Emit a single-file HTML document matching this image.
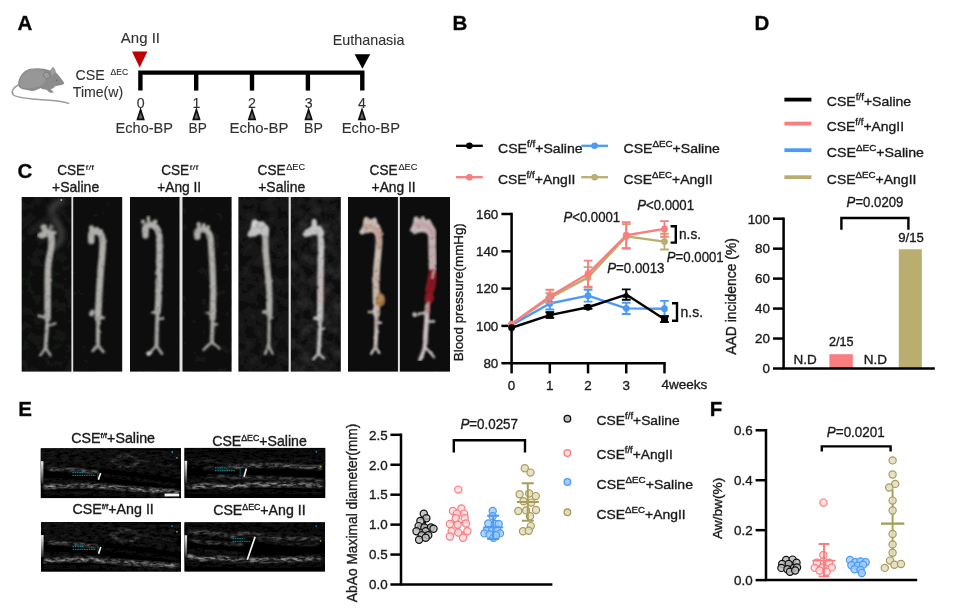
<!DOCTYPE html>
<html><head><meta charset="utf-8"><title>Figure</title>
<style>
html,body{margin:0;padding:0;background:#fff;}
body{width:955px;height:613px;overflow:hidden;font-family:"Liberation Sans",sans-serif;}
svg{display:block;font-family:"Liberation Sans",sans-serif;}
svg text{stroke:#1c1c1c;stroke-width:0.35px;}
</style></head><body>
<svg width="955" height="613" viewBox="0 0 955 613">
<defs>
<filter id="b03" x="-5%" y="-5%" width="110%" height="110%"><feGaussianBlur stdDeviation="0.5"/></filter>
<filter id="b06" x="-10%" y="-10%" width="120%" height="120%"><feGaussianBlur stdDeviation="0.6"/></filter>
<filter id="b09" x="-20%" y="-5%" width="140%" height="110%"><feGaussianBlur stdDeviation="0.85"/></filter>
<filter id="b1" x="-20%" y="-20%" width="140%" height="140%"><feGaussianBlur stdDeviation="1"/></filter>
<filter id="b2" x="-30%" y="-30%" width="160%" height="160%"><feGaussianBlur stdDeviation="2"/></filter>
<filter id="b4" x="-50%" y="-50%" width="200%" height="200%"><feGaussianBlur stdDeviation="4"/></filter>
<linearGradient id="gsb" x1="0" y1="0" x2="0" y2="1"><stop offset="0" stop-color="#f0f0f0"/><stop offset="1" stop-color="#2a2a2a"/></linearGradient>
<filter id="speck0" x="0" y="0" width="100%" height="100%" color-interpolation-filters="sRGB"><feTurbulence type="fractalNoise" baseFrequency="0.16 0.4" numOctaves="3" seed="4" result="n"/><feColorMatrix in="n" type="matrix" values="2.6 0 0 0 -0.85  2.6 0 0 0 -0.85  2.6 0 0 0 -0.85  0 0 0 0 1" result="n2"/><feComposite in="SourceGraphic" in2="n2" operator="arithmetic" k1="0.95" k2="0.2" k3="0" k4="0" result="c"/><feGaussianBlur in="c" stdDeviation="0.7"/></filter>
<filter id="speck1" x="0" y="0" width="100%" height="100%" color-interpolation-filters="sRGB"><feTurbulence type="fractalNoise" baseFrequency="0.16 0.4" numOctaves="3" seed="11" result="n"/><feColorMatrix in="n" type="matrix" values="2.6 0 0 0 -0.85  2.6 0 0 0 -0.85  2.6 0 0 0 -0.85  0 0 0 0 1" result="n2"/><feComposite in="SourceGraphic" in2="n2" operator="arithmetic" k1="0.95" k2="0.2" k3="0" k4="0" result="c"/><feGaussianBlur in="c" stdDeviation="0.7"/></filter>
<filter id="aort" x="0" y="0" width="100%" height="100%" color-interpolation-filters="sRGB"><feTurbulence type="fractalNoise" baseFrequency="0.2 0.2" numOctaves="2" seed="7" result="n"/><feDisplacementMap in="SourceGraphic" in2="n" scale="2.2" xChannelSelector="R" yChannelSelector="G" result="d"/><feGaussianBlur in="d" stdDeviation="0.8" result="bl"/><feColorMatrix in="n" type="matrix" values="0 0 0 0 0  0 0 0 0 0  0 0 0 0 0  0 0 0.4 0 0.8" result="na0"/><feGaussianBlur in="na0" stdDeviation="0.6" result="na"/><feComposite in="bl" in2="na" operator="in"/></filter>
<filter id="pnoise" x="0" y="0" width="100%" height="100%" color-interpolation-filters="sRGB"><feTurbulence type="fractalNoise" baseFrequency="0.09 0.09" numOctaves="4" seed="21" result="n"/><feColorMatrix in="n" type="matrix" values="0 0 0 0 1  0 0 0 0 1  0 0 0 0 1  2.0 0 0 0 -0.62" result="m"/><feComposite in="m" in2="SourceGraphic" operator="in"/></filter>
</defs>
<rect width="955" height="613" fill="#ffffff"/>
<g filter="url(#b03)">
<text x="17.5" y="30.3" font-size="20.5" text-anchor="start" font-weight="bold" font-style="normal" fill="#000" >A</text>
<text x="452.5" y="29.8" font-size="20.5" text-anchor="start" font-weight="bold" font-style="normal" fill="#000" >B</text>
<text x="754.5" y="30.3" font-size="20.5" text-anchor="start" font-weight="bold" font-style="normal" fill="#000" >D</text>
<text x="17.5" y="177.6" font-size="20.5" text-anchor="start" font-weight="bold" font-style="normal" fill="#000" >C</text>
<text x="18.3" y="416.0" font-size="20.5" text-anchor="start" font-weight="bold" font-style="normal" fill="#000" >E</text>
<text x="709.8" y="416.0" font-size="20.5" text-anchor="start" font-weight="bold" font-style="normal" fill="#000" >F</text>
<g id="mouse" filter="url(#b06)">
<path d="M18 85 C13 88 10.5 92 13.5 95 C17 98 30 99 45 100 C55 100.6 63 101.5 68.6 103.4" fill="none" stroke="#9c9c9c" stroke-width="1.5" stroke-linecap="round"/>
<path d="M18.2 85.5 C17.5 78 23 70.5 30 68.8 C36 67.6 44 68 50 70.5 L52.5 67.2 C54.5 67.2 55.5 70 55.8 72.3 C59 75.5 62 79.5 64.3 83 C64 84.5 62 84.8 60 85.2 L55 86.2 C54 88 52.5 89 50.5 89 L54 92.5 L50 92.8 L46 89.5 C44 89.5 42 89 40.5 88 C38 89.5 35 91 32 91 L27 90 C23 89.6 19.5 88.5 18.2 85.5 Z" fill="#8b8b8b"/>
<path d="M19.5 84 C19.5 78 24 71.5 30.5 70 C36 69 42 69.5 45.5 72 C47.5 76 46.5 81 43 84.5 C38 88 30 88.5 24 88 C21.5 87.6 20 86.2 19.5 84 Z" fill="#979797"/>
<ellipse cx="46.6" cy="75.4" rx="3" ry="3.5" transform="rotate(-35 46.6 75.4)" fill="#9d9d9d" stroke="#7b7b7b" stroke-width="0.9"/>
<path d="M50.5 71 L52.6 67.6 C54.3 68 55 70 55.3 72.5 L52 76 Z" fill="#9f9f9f"/>
<circle cx="56.6" cy="80.4" r="0.8" fill="#666"/>
</g>
<text x="120.8" y="43.0" font-size="15" textLength="39.2" lengthAdjust="spacingAndGlyphs" font-weight="normal" font-style="normal" fill="#333333" style="stroke-width:0.1px">Ang II</text>
<text x="332.8" y="44.6" font-size="15" textLength="71.6" lengthAdjust="spacingAndGlyphs" font-weight="normal" font-style="normal" fill="#333333" style="stroke-width:0.1px">Euthanasia</text>
<path d="M132 51.6 L147.4 51.6 L139.7 67.4 Z" fill="#c00000"/>
<path d="M354.6 54.2 L370.2 54.2 L362.4 68.8 Z" fill="#000"/>
<path d="M140.4 90.6 V72.6 H362.3 V90.6" fill="none" stroke="#000" stroke-width="4.4" stroke-linejoin="miter"/>
<line x1="196.2" y1="72.6" x2="196.2" y2="90.6" stroke="#000" stroke-width="4.4"/>
<line x1="252" y1="72.6" x2="252" y2="90.6" stroke="#000" stroke-width="4.4"/>
<line x1="307.9" y1="72.6" x2="307.9" y2="90.6" stroke="#000" stroke-width="4.4"/>
<text x="75.6" y="79.8" font-size="15" textLength="29.2" lengthAdjust="spacingAndGlyphs" font-weight="normal" font-style="normal" fill="#333333" style="stroke-width:0.1px">CSE</text>
<text x="110.6" y="75.3" font-size="8.6" textLength="17.6" lengthAdjust="spacingAndGlyphs" font-weight="normal" font-style="normal" fill="#333333" style="stroke-width:0.1px">&#916;EC</text>
<text x="72.8" y="97.0" font-size="15" textLength="50.4" lengthAdjust="spacingAndGlyphs" font-weight="normal" font-style="normal" fill="#333333" style="stroke-width:0.1px">Time(w)</text>
<text x="140.6" y="107.6" font-size="14.2" text-anchor="middle" font-weight="normal" font-style="normal" fill="#333333" style="stroke-width:0.1px">0</text>
<path d="M137.5 119.4 L143.7 119.4 L140.6 109.8 Z" fill="#666" stroke="#111" stroke-width="1.7" stroke-linejoin="miter"/>
<text x="115.6" y="133.3" font-size="15" textLength="57.4" lengthAdjust="spacingAndGlyphs" font-weight="normal" font-style="normal" fill="#333333" style="stroke-width:0.1px">Echo-BP</text>
<text x="196.4" y="107.6" font-size="14.2" text-anchor="middle" font-weight="normal" font-style="normal" fill="#333333" style="stroke-width:0.1px">1</text>
<path d="M193.3 119.4 L199.5 119.4 L196.4 109.8 Z" fill="#666" stroke="#111" stroke-width="1.7" stroke-linejoin="miter"/>
<text x="188.6" y="133.3" font-size="15" textLength="18.2" lengthAdjust="spacingAndGlyphs" font-weight="normal" font-style="normal" fill="#333333" style="stroke-width:0.1px">BP</text>
<text x="252" y="107.6" font-size="14.2" text-anchor="middle" font-weight="normal" font-style="normal" fill="#333333" style="stroke-width:0.1px">2</text>
<path d="M248.9 119.4 L255.1 119.4 L252 109.8 Z" fill="#666" stroke="#111" stroke-width="1.7" stroke-linejoin="miter"/>
<text x="229.6" y="133.3" font-size="15" textLength="58.9" lengthAdjust="spacingAndGlyphs" font-weight="normal" font-style="normal" fill="#333333" style="stroke-width:0.1px">Echo-BP</text>
<text x="308.6" y="107.6" font-size="14.2" text-anchor="middle" font-weight="normal" font-style="normal" fill="#333333" style="stroke-width:0.1px">3</text>
<path d="M305.5 119.4 L311.70000000000005 119.4 L308.6 109.8 Z" fill="#666" stroke="#111" stroke-width="1.7" stroke-linejoin="miter"/>
<text x="304.0" y="133.3" font-size="15" textLength="18.8" lengthAdjust="spacingAndGlyphs" font-weight="normal" font-style="normal" fill="#333333" style="stroke-width:0.1px">BP</text>
<text x="362" y="107.6" font-size="14.2" text-anchor="middle" font-weight="normal" font-style="normal" fill="#333333" style="stroke-width:0.1px">4</text>
<path d="M358.9 119.4 L365.1 119.4 L362 109.8 Z" fill="#666" stroke="#111" stroke-width="1.7" stroke-linejoin="miter"/>
<text x="341.7" y="133.3" font-size="15" textLength="58.3" lengthAdjust="spacingAndGlyphs" font-weight="normal" font-style="normal" fill="#333333" style="stroke-width:0.1px">Echo-BP</text>
<text x="57.2" y="175.2" font-size="14.6" textLength="28.0" lengthAdjust="spacingAndGlyphs" fill="#1a1a1a" style="stroke-width:0.35px">CSE</text>
<text x="85.6" y="169.6" font-size="7.2" textLength="8.6" lengthAdjust="spacingAndGlyphs" fill="#1a1a1a" style="stroke-width:0.1px">f/f</text>
<text x="52.0" y="192.2" font-size="14.6" textLength="47.2" lengthAdjust="spacingAndGlyphs" fill="#1a1a1a" style="stroke-width:0.35px">+Saline</text>
<text x="161.2" y="175.2" font-size="14.6" textLength="28.0" lengthAdjust="spacingAndGlyphs" fill="#1a1a1a" style="stroke-width:0.35px">CSE</text>
<text x="189.6" y="169.6" font-size="7.2" textLength="8.8" lengthAdjust="spacingAndGlyphs" fill="#1a1a1a" style="stroke-width:0.1px">f/f</text>
<text x="157.2" y="192.2" font-size="14.6" textLength="44.0" lengthAdjust="spacingAndGlyphs" fill="#1a1a1a" style="stroke-width:0.35px">+Ang II</text>
<text x="257.6" y="175.2" font-size="14.6" textLength="28.0" lengthAdjust="spacingAndGlyphs" fill="#1a1a1a" style="stroke-width:0.35px">CSE</text>
<text x="286.2" y="169.8" font-size="8.8" textLength="18.8" lengthAdjust="spacingAndGlyphs" fill="#1a1a1a" style="stroke-width:0.1px">&#916;EC</text>
<text x="258.2" y="192.2" font-size="14.6" textLength="47.0" lengthAdjust="spacingAndGlyphs" fill="#1a1a1a" style="stroke-width:0.35px">+Saline</text>
<text x="369.6" y="175.2" font-size="14.6" textLength="28.0" lengthAdjust="spacingAndGlyphs" fill="#1a1a1a" style="stroke-width:0.35px">CSE</text>
<text x="398.4" y="169.8" font-size="8.8" textLength="19.0" lengthAdjust="spacingAndGlyphs" fill="#1a1a1a" style="stroke-width:0.1px">&#916;EC</text>
<text x="371.6" y="192.2" font-size="14.6" textLength="44.0" lengthAdjust="spacingAndGlyphs" fill="#1a1a1a" style="stroke-width:0.35px">+Ang II</text>
<rect x="70.9" y="197" width="2.799999999999997" height="174.60000000000002" fill="#e2e2e2"/>
<rect x="179.0" y="197" width="4.0" height="174.60000000000002" fill="#e2e2e2"/>
<rect x="288.1" y="197" width="3.1999999999999886" height="174.60000000000002" fill="#e2e2e2"/>
<rect x="397.4" y="197" width="3.0" height="174.60000000000002" fill="#e2e2e2"/>
<rect x="21.7" y="197" width="49.7" height="174.6" fill="#0b0c0b"/>
<rect x="73.2" y="197" width="49.0" height="174.6" fill="#0a0a0a"/>
<rect x="130" y="197" width="49.5" height="174.6" fill="#090909"/>
<rect x="182.5" y="197" width="49.1" height="174.6" fill="#0a0a0a"/>
<rect x="238.4" y="197" width="50.2" height="174.6" fill="#0d0d0d"/>
<rect x="290.8" y="197" width="50.0" height="174.6" fill="#0f0f0f"/>
<rect x="348" y="197" width="49.9" height="174.6" fill="#070707"/>
<rect x="399.9" y="197" width="50.1" height="174.6" fill="#080808"/>
<rect x="21.7" y="197" width="49.7" height="174.6" fill="#fff" opacity="0.05" filter="url(#pnoise)"/>
<rect x="73.2" y="197" width="49.0" height="174.6" fill="#fff" opacity="0.03" filter="url(#pnoise)"/>
<rect x="130" y="197" width="49.5" height="174.6" fill="#fff" opacity="0.03" filter="url(#pnoise)"/>
<rect x="182.5" y="197" width="49.1" height="174.6" fill="#fff" opacity="0.04" filter="url(#pnoise)"/>
<rect x="238.4" y="197" width="50.2" height="174.6" fill="#fff" opacity="0.07" filter="url(#pnoise)"/>
<rect x="290.8" y="197" width="50.0" height="174.6" fill="#fff" opacity="0.11" filter="url(#pnoise)"/>
<rect x="348" y="197" width="49.9" height="174.6" fill="#fff" opacity="0.02" filter="url(#pnoise)"/>
<rect x="399.9" y="197" width="50.1" height="174.6" fill="#fff" opacity="0.03" filter="url(#pnoise)"/>
<clipPath id="cp0"><rect x="21.7" y="197" width="49.7" height="174.6"/></clipPath>
<clipPath id="cp1"><rect x="73.2" y="197" width="49.0" height="174.6"/></clipPath>
<clipPath id="cp2"><rect x="130" y="197" width="49.5" height="174.6"/></clipPath>
<clipPath id="cp3"><rect x="182.5" y="197" width="49.1" height="174.6"/></clipPath>
<clipPath id="cp4"><rect x="238.4" y="197" width="50.2" height="174.6"/></clipPath>
<clipPath id="cp5"><rect x="290.8" y="197" width="50.0" height="174.6"/></clipPath>
<clipPath id="cp6"><rect x="348" y="197" width="49.9" height="174.6"/></clipPath>
<clipPath id="cp7"><rect x="399.9" y="197" width="50.1" height="174.6"/></clipPath>
<clipPath id="cpall"><rect x="21.7" y="197" width="428.3" height="174.6"/></clipPath>
<g clip-path="url(#cpall)">
<g filter="url(#b2)" opacity="0.72"><path d="M62 201 C55 203 50 208 52 214 C54 220 60 224 61 232 C62 240 58 246 52 248" fill="none" stroke="#4a4a4a" stroke-width="7" stroke-linecap="round" stroke-linejoin="round"/><path d="M30 232 C36 226 44 222 52 216" fill="none" stroke="#2c2c2c" stroke-width="5" stroke-linecap="round" stroke-linejoin="round"/></g>
<circle cx="61.3" cy="200" r="0.9" fill="#bbb" filter="url(#b06)"/>
<g filter="url(#aort)">
<path d="M51.6 238 C52.2 244 51 250 49.6 256 C48.4 262 47.9 266 47.8 272 L47.6 300 L47.5 318" fill="none" stroke="#b0aeab" stroke-width="6.5" stroke-linecap="round" stroke-linejoin="round"/>
<path d="M47.5 318 C46.8 330 46 340 45.6 348.5" fill="none" stroke="#a9a7a4" stroke-width="3.9" stroke-linecap="round" stroke-linejoin="round"/>
<path d="M45.6 348 L40 355.8 M45.6 348 L50.9 355.8" fill="none" stroke="#a9a7a4" stroke-width="2.5" stroke-linecap="round" stroke-linejoin="round"/>
<path d="M46.5 317.6 L38.4 315.8" fill="none" stroke="#a9a7a4" stroke-width="2.8" stroke-linecap="round" stroke-linejoin="round"/><path d="M47.6 326 L55.6 323.4" fill="none" stroke="#a9a7a4" stroke-width="2.2" stroke-linecap="round" stroke-linejoin="round"/>
<path d="M51.3 240 C51.8 233 48 232 42 235" fill="none" stroke="#b0aeab" stroke-width="6.5" stroke-linecap="round" stroke-linejoin="round"/>
<ellipse cx="43.0" cy="235" rx="5.4" ry="3.3" fill="#b0aeab" transform="rotate(-12 43.0 235)"/><ellipse cx="44" cy="227.6" rx="3.5" ry="3.4" fill="#b0aeab"/><ellipse cx="54.0" cy="232.8" rx="2.6" ry="2.2" fill="#b0aeab"/><ellipse cx="47.5" cy="231.5" rx="2.5" ry="2.5" fill="#b0aeab"/>
<path d="M48.8 232 L50.8 225" fill="none" stroke="#b0b0b0" stroke-width="1.8" stroke-linecap="round" stroke-linejoin="round"/><path d="M51.2 232 L53 225.6" fill="none" stroke="#9a9a9a" stroke-width="1.4" stroke-linecap="round" stroke-linejoin="round"/>
<path d="M91.2 241 L91.2 236 C91.2 230.5 96 231 99 232.5 C102.4 234.5 102.9 240 102.7 246 C102.3 256 101.3 264 100.7 270 C99.7 284 98.9 296 98.3 312 L98 318" fill="none" stroke="#b0aeab" stroke-width="6.7" stroke-linecap="round" stroke-linejoin="round"/>
<path d="M98 318 C97.9 328 97.9 338 97.9 345.5" fill="none" stroke="#a9a7a4" stroke-width="4.1" stroke-linecap="round" stroke-linejoin="round"/>
<path d="M97.9 345 L92.6 351 M97.9 345 L103.4 351.8" fill="none" stroke="#a9a7a4" stroke-width="2.8" stroke-linecap="round" stroke-linejoin="round"/>
<ellipse cx="91.5" cy="228.2" rx="2.7" ry="2.9" fill="#b0aeab"/><ellipse cx="96.6" cy="229.6" rx="2.5" ry="2.6" fill="#b0aeab"/><ellipse cx="100.9" cy="231.2" rx="2.3" ry="2.3" fill="#b0aeab"/>
<ellipse cx="91.8" cy="313" rx="2.6" ry="3.6" fill="#a9a7a4" transform="rotate(20 91.8 313)"/><ellipse cx="102.6" cy="317.6" rx="2.4" ry="2.2" fill="#a9a7a4"/>
<path d="M145.4 235.5 L145.2 229 C146 222.5 158 222.5 159.3 236 L159.5 252 C159.4 266 158.8 280 158.7 292 C158.6 300 158 306 157.6 312" fill="none" stroke="#b0aeab" stroke-width="6.5" stroke-linecap="round" stroke-linejoin="round"/>
<path d="M157.6 312 C157.2 320 156.8 330 156.5 346" fill="none" stroke="#a9a7a4" stroke-width="4.1" stroke-linecap="round" stroke-linejoin="round"/>
<path d="M156.4 345.6 L149 353.6 M156.4 345.6 L162 353.8" fill="none" stroke="#a9a7a4" stroke-width="2.7" stroke-linecap="round" stroke-linejoin="round"/>
<ellipse cx="148.6" cy="353.6" rx="2.3" ry="2.3" fill="#dcdcdc"/>
<ellipse cx="142.9" cy="221.5" rx="2.0" ry="2.6" fill="#b0aeab"/><ellipse cx="148.3" cy="219.2" rx="1.7" ry="3.8" fill="#b0aeab"/><ellipse cx="155.2" cy="221.6" rx="2.4" ry="2.2" fill="#b0aeab"/><ellipse cx="145.4" cy="231.5" rx="3.6" ry="5" fill="#b0aeab"/>
<path d="M157 312.6 L151.6 312.4" fill="none" stroke="#a9a7a4" stroke-width="2.6" stroke-linecap="round" stroke-linejoin="round"/><path d="M157 318.8 L163 318.8" fill="none" stroke="#a9a7a4" stroke-width="2.6" stroke-linecap="round" stroke-linejoin="round"/>
<path d="M197.4 236.8 L197.6 232 C198.5 227.3 209.5 227 210.8 240 C211.4 250 212 258 212.4 266 C212.8 278 213.3 286 213.2 294 C213.1 304 212.8 310 212.6 318" fill="none" stroke="#b0aeab" stroke-width="6.3" stroke-linecap="round" stroke-linejoin="round"/>
<path d="M212.6 318 C212.5 326 212.3 334 211.8 342.4" fill="none" stroke="#a9a7a4" stroke-width="4.1" stroke-linecap="round" stroke-linejoin="round"/>
<path d="M211.8 342 L203.6 349.6 M211.8 342 L219.4 348.4" fill="none" stroke="#a9a7a4" stroke-width="2.6" stroke-linecap="round" stroke-linejoin="round"/>
<ellipse cx="198.6" cy="224.4" rx="2.2" ry="2.6" fill="#b0aeab"/><ellipse cx="203.8" cy="225.4" rx="2.0" ry="2.4" fill="#b0aeab"/><ellipse cx="208.4" cy="227" rx="1.8" ry="2.0" fill="#b0aeab"/><ellipse cx="197.2" cy="233.4" rx="3.4" ry="4.2" fill="#b0aeab"/>
<path d="M211.6 313.6 L206.6 313" fill="none" stroke="#a9a7a4" stroke-width="2.6" stroke-linecap="round" stroke-linejoin="round"/><path d="M213 324.2 L217 324.2" fill="none" stroke="#a9a7a4" stroke-width="2.4" stroke-linecap="round" stroke-linejoin="round"/>
<path d="M261 230 C265 230 265.6 236 265.5 244 C265.6 254 266.6 260 267 266 C268 276 269.2 284 269.3 292 C269.4 300 269.4 306 269.3 314" fill="none" stroke="#b0aeab" stroke-width="6.3" stroke-linecap="round" stroke-linejoin="round"/>
<path d="M269.3 314 C269.2 322 269 334 268.8 346" fill="none" stroke="#a9a7a4" stroke-width="3.3" stroke-linecap="round" stroke-linejoin="round"/>
<path d="M268.8 345.6 L264.8 353.8 M268.8 345.6 L272.6 353.8" fill="none" stroke="#a9a7a4" stroke-width="2.4" stroke-linecap="round" stroke-linejoin="round"/>
<path d="M247 235 L250.4 228.4 L251.8 221.6 C253.2 218.4 257 218.8 258.2 221.6 L262.6 221.2 C264.6 221 265.8 222.8 265.6 224.6 L268.2 226 L269.4 230 L268.6 236 L262 235 L259.4 234.2 L254 236.4 L249.4 237.2 Z" fill="#c2c2c2"/>
<ellipse cx="254.6" cy="223.4" rx="2.6" ry="3.0" fill="#d4d4d4"/>
<ellipse cx="264.2" cy="312" rx="2.4" ry="2.0" fill="#a9a7a4"/><path d="M269.4 317.6 L272.6 317.6" fill="none" stroke="#a9a7a4" stroke-width="2.4" stroke-linecap="round" stroke-linejoin="round"/>
<path d="M312 229.6 C319 229 321 233 321 242 L320.8 262 C320.6 276 320.4 284 320.4 294 C320.4 304 320.2 312 320 320" fill="none" stroke="#c4c2c2" stroke-width="6.3" stroke-linecap="round" stroke-linejoin="round"/>
<path d="M320 320 C319.8 330 319.4 342 318.4 354" fill="none" stroke="#bdbdbd" stroke-width="4.1" stroke-linecap="round" stroke-linejoin="round"/>
<path d="M318.3 353.6 L313.4 359 M318.3 353.6 L323.8 358.2" fill="none" stroke="#bdbdbd" stroke-width="2.7" stroke-linecap="round" stroke-linejoin="round"/>
<path d="M302.4 234.4 L305.4 229.4 L311.2 227.2 L311.8 220.6 C312.6 218.2 315.8 218.2 316.6 220.6 L317.4 226.2 L320.8 225.6 L322 228 L324.2 231.6 L324 236 L318 234.6 L313.6 235 L308.6 236.6 L304.6 237.6 Z" fill="#c4c4c4"/>
<ellipse cx="315.4" cy="318.2" rx="2.4" ry="2.0" fill="#bdbdbd"/><path d="M320 328.2 L324.2 328.2" fill="none" stroke="#bdbdbd" stroke-width="2.2" stroke-linecap="round" stroke-linejoin="round"/>
<path d="M320.5 270 L320.2 305" fill="none" stroke="#c9b3b0" stroke-width="2.2" stroke-linecap="round" stroke-linejoin="round"/>
<path d="M366 229 C376 227.6 379.4 232 379 242 C378.6 250 377.6 258 376.8 266 C376.2 276 375.8 284 376 292 C376.2 300 376.4 306 376.5 314" fill="none" stroke="#cbbfb6" stroke-width="6.9" stroke-linecap="round" stroke-linejoin="round"/>
<path d="M376.5 314 C376.5 322 376.3 334 375.6 347" fill="none" stroke="#c9c0bd" stroke-width="4.1" stroke-linecap="round" stroke-linejoin="round"/>
<path d="M375.6 346.6 L371.2 353.8 M375.6 346.6 L379.2 353" fill="none" stroke="#c9c0bd" stroke-width="2.6" stroke-linecap="round" stroke-linejoin="round"/>
<path d="M358.8 232.2 L362.4 226.4 L363.6 219 C365 215.6 368.6 215.8 369.6 219 L372 219.6 C373 216.8 376.6 217 377 220 L377.4 223 L380 225.4 L381 229 L383.8 234 L380 238 L372 232 L366 232.8 L362 235.2 Z" fill="#cbbfb6"/>
<ellipse cx="379.4" cy="232.4" rx="1.6" ry="3.6" fill="#d9a9a0" transform="rotate(-25 379.4 232.4)"/>
<ellipse cx="380.4" cy="300" rx="4.8" ry="7.0" fill="#a67848"/>
<ellipse cx="379.8" cy="298.4" rx="2.6" ry="3.8" fill="#b48a58"/>
<path d="M376 312.2 L368.6 312" fill="none" stroke="#c9c0bd" stroke-width="2.4" stroke-linecap="round" stroke-linejoin="round"/><path d="M376.6 322.8 L381 322.8" fill="none" stroke="#c9c0bd" stroke-width="2.6" stroke-linecap="round" stroke-linejoin="round"/>
<path d="M377.4 308 L377.2 326" fill="none" stroke="#c7a39a" stroke-width="1.6" stroke-linecap="round" stroke-linejoin="round"/>
<path d="M418 228.6 C430 226.6 432.6 232 432.2 242 L432.4 258 L432.8 268" fill="none" stroke="#c7babc" stroke-width="7.9" stroke-linecap="round" stroke-linejoin="round"/>
<path d="M427.4 306 C427 314 426.4 324 425.6 334 L425 348" fill="none" stroke="#cbc0c2" stroke-width="4.9" stroke-linecap="round" stroke-linejoin="round"/>
<path d="M425 347.6 L419.8 360.4" fill="none" stroke="#cbc0c2" stroke-width="3.9" stroke-linecap="round" stroke-linejoin="round"/><path d="M425.4 347 L434 357" fill="none" stroke="#c8c4c6" stroke-width="2.6" stroke-linecap="round" stroke-linejoin="round"/>
<path d="M409.6 230.6 L412.4 224.6 L413.6 218.6 C414.6 215.4 417.4 215.6 418.2 218.4 L420.4 218.8 C421.2 215.2 424.6 215.2 425 218.8 L426.8 220.4 C428.2 218.2 431 219 431 221.6 L433 225 L436.2 230.6 L436.2 236 L428 233.6 L420 231.6 L414.6 234.4 Z" fill="#c7babc"/>
<path d="M432.9 274 C432.4 279 430.8 285 429.8 290" fill="none" stroke="#861822" stroke-width="9.6" stroke-linecap="round" stroke-linejoin="round"/>
<ellipse cx="429.2" cy="297.8" rx="5.0" ry="5.6" fill="#8e1a24"/>
<path d="M433.6 271 L432.4 278" fill="none" stroke="#d7c3c3" stroke-width="2.0" stroke-linecap="round" stroke-linejoin="round"/>
<path d="M426.8 312.6 L416 314.4" fill="none" stroke="#cbc0c2" stroke-width="2.8" stroke-linecap="round" stroke-linejoin="round"/><ellipse cx="414.6" cy="314.6" rx="2.2" ry="2.6" fill="#cbc0c2"/><path d="M426.6 321.6 L434 321.4" fill="none" stroke="#cbc0c2" stroke-width="2.6" stroke-linecap="round" stroke-linejoin="round"/>
<path d="M428.4 303 L427.6 312" fill="none" stroke="#c98a8c" stroke-width="3.5" stroke-linecap="round" stroke-linejoin="round"/>
<g opacity="0.32"><path d="M364 227 C372 225 378.6 229 379.4 238 L379 248" fill="none" stroke="#b86a5e" stroke-width="5.2" stroke-linecap="round" stroke-linejoin="round"/><path d="M417 225 C426 223 432.4 228 433 238" fill="none" stroke="#b8747a" stroke-width="5.2" stroke-linecap="round" stroke-linejoin="round"/><path d="M376.4 262 L376 292" fill="none" stroke="#c49a8c" stroke-width="4.2" stroke-linecap="round" stroke-linejoin="round"/><path d="M432.4 244 L432.8 266" fill="none" stroke="#c08a90" stroke-width="5" stroke-linecap="round" stroke-linejoin="round"/></g>
</g>
</g>
<line x1="456" y1="145.8" x2="482.8" y2="145.8" stroke="#000000" stroke-width="2.3"/><circle cx="469.4" cy="145.8" r="3.3" fill="#000000"/>
<text x="498" y="152.8" font-size="13.5" textLength="84.6" lengthAdjust="spacingAndGlyphs" fill="#1a1a1a">CSE<tspan font-size="9.45" dy="-5.94">f/f</tspan><tspan dy="5.94">+Saline</tspan></text>
<line x1="581.2" y1="145.8" x2="608" y2="145.8" stroke="#4b9bf6" stroke-width="2.3"/><circle cx="594.6" cy="145.8" r="3.3" fill="#4b9bf6"/>
<text x="623.6" y="152.8" font-size="13.5" textLength="96.2" lengthAdjust="spacingAndGlyphs" fill="#1a1a1a">CSE<tspan font-size="9.45" dy="-5.94">&#916;EC</tspan><tspan dy="5.94">+Saline</tspan></text>
<line x1="456" y1="177.2" x2="482.8" y2="177.2" stroke="#f87e80" stroke-width="2.3"/><circle cx="469.4" cy="177.2" r="3.3" fill="#f87e80"/>
<text x="498" y="184.2" font-size="13.5" textLength="77.4" lengthAdjust="spacingAndGlyphs" fill="#1a1a1a">CSE<tspan font-size="9.45" dy="-5.94">f/f</tspan><tspan dy="5.94">+AngII</tspan></text>
<line x1="581.2" y1="177.2" x2="608" y2="177.2" stroke="#b9ae6f" stroke-width="2.3"/><circle cx="594.6" cy="177.2" r="3.3" fill="#b9ae6f"/>
<text x="623.6" y="184.2" font-size="13.5" textLength="89.0" lengthAdjust="spacingAndGlyphs" fill="#1a1a1a">CSE<tspan font-size="9.45" dy="-5.94">&#916;EC</tspan><tspan dy="5.94">+AngII</tspan></text>
<path d="M511.6 212.75 V363.2 H665.73" fill="none" stroke="#000" stroke-width="2.5"/>
<line x1="501.4" x2="511.6" y1="363.2" y2="363.2" stroke="#000" stroke-width="2.5"/>
<text x="498.3" y="368.0" font-size="13.4" text-anchor="end" font-weight="normal" font-style="normal" fill="#1a1a1a" >80</text>
<line x1="501.4" x2="511.6" y1="325.9" y2="325.9" stroke="#000" stroke-width="2.5"/>
<text x="498.3" y="330.7" font-size="13.4" text-anchor="end" font-weight="normal" font-style="normal" fill="#1a1a1a" >100</text>
<line x1="501.4" x2="511.6" y1="288.6" y2="288.6" stroke="#000" stroke-width="2.5"/>
<text x="498.3" y="293.4" font-size="13.4" text-anchor="end" font-weight="normal" font-style="normal" fill="#1a1a1a" >120</text>
<line x1="501.4" x2="511.6" y1="251.29999999999998" y2="251.29999999999998" stroke="#000" stroke-width="2.5"/>
<text x="498.3" y="256.1" font-size="13.4" text-anchor="end" font-weight="normal" font-style="normal" fill="#1a1a1a" >140</text>
<line x1="501.4" x2="511.6" y1="214.0" y2="214.0" stroke="#000" stroke-width="2.5"/>
<text x="498.3" y="218.8" font-size="13.4" text-anchor="end" font-weight="normal" font-style="normal" fill="#1a1a1a" >160</text>
<line x1="511.6" x2="511.6" y1="363.2" y2="373.4" stroke="#000" stroke-width="2.5"/>
<text x="511.6" y="389.6" font-size="13.4" text-anchor="middle" font-weight="normal" font-style="normal" fill="#1a1a1a" >0</text>
<line x1="549.82" x2="549.82" y1="363.2" y2="373.4" stroke="#000" stroke-width="2.5"/>
<text x="549.82" y="389.6" font-size="13.4" text-anchor="middle" font-weight="normal" font-style="normal" fill="#1a1a1a" >1</text>
<line x1="588.04" x2="588.04" y1="363.2" y2="373.4" stroke="#000" stroke-width="2.5"/>
<text x="588.04" y="389.6" font-size="13.4" text-anchor="middle" font-weight="normal" font-style="normal" fill="#1a1a1a" >2</text>
<line x1="626.26" x2="626.26" y1="363.2" y2="373.4" stroke="#000" stroke-width="2.5"/>
<text x="626.26" y="389.6" font-size="13.4" text-anchor="middle" font-weight="normal" font-style="normal" fill="#1a1a1a" >3</text>
<line x1="664.48" x2="664.48" y1="363.2" y2="373.4" stroke="#000" stroke-width="2.5"/>
<text x="661.4" y="389.4" font-size="13.4" textLength="45.8" lengthAdjust="spacingAndGlyphs" font-style="normal" fill="#1a1a1a">4weeks</text>
<text transform="translate(463.4,292.2) rotate(-90)" font-size="13.3" text-anchor="middle" textLength="138" lengthAdjust="spacingAndGlyphs" fill="#1a1a1a">Blood pressure(mmHg)</text>
<polyline points="511.6,324.03 549.82,297.92 588.04,277.41 626.26,236.38 664.48,241.6" fill="none" stroke="#b9ae6f" stroke-width="2.4" stroke-linejoin="round"/>
<circle cx="511.6" cy="324.03" r="3.4" fill="#b9ae6f"/>
<path d="M549.82 293.26 V302.59 M545.4200000000001 293.26 H554.22 M545.4200000000001 302.59 H554.22" fill="none" stroke="#b9ae6f" stroke-width="1.9"/>
<circle cx="549.82" cy="297.92" r="3.4" fill="#b9ae6f"/>
<path d="M588.04 267.15 V287.67 M583.64 267.15 H592.4399999999999 M583.64 287.67 H592.4399999999999" fill="none" stroke="#b9ae6f" stroke-width="1.9"/>
<circle cx="588.04" cy="277.41" r="3.4" fill="#b9ae6f"/>
<path d="M626.26 224.26 V248.5 M621.86 224.26 H630.66 M621.86 248.5 H630.66" fill="none" stroke="#b9ae6f" stroke-width="1.9"/>
<circle cx="626.26" cy="236.38" r="3.4" fill="#b9ae6f"/>
<path d="M664.48 233.77 V249.44 M660.08 233.77 H668.88 M660.08 249.44 H668.88" fill="none" stroke="#b9ae6f" stroke-width="1.9"/>
<circle cx="664.48" cy="241.6" r="3.4" fill="#b9ae6f"/>
<polyline points="511.6,325.15 549.82,303.52 588.04,295.69 626.26,308.37 664.48,308.74" fill="none" stroke="#4b9bf6" stroke-width="2.4" stroke-linejoin="round"/>
<circle cx="511.6" cy="325.15" r="3.4" fill="#4b9bf6"/>
<path d="M549.82 297.55 V309.49 M545.4200000000001 297.55 H554.22 M545.4200000000001 309.49 H554.22" fill="none" stroke="#4b9bf6" stroke-width="1.9"/>
<circle cx="549.82" cy="303.52" r="3.4" fill="#4b9bf6"/>
<path d="M588.04 289.72 V301.65 M583.64 289.72 H592.4399999999999 M583.64 301.65 H592.4399999999999" fill="none" stroke="#4b9bf6" stroke-width="1.9"/>
<circle cx="588.04" cy="295.69" r="3.4" fill="#4b9bf6"/>
<path d="M626.26 302.77 V313.96 M621.86 302.77 H630.66 M621.86 313.96 H630.66" fill="none" stroke="#4b9bf6" stroke-width="1.9"/>
<circle cx="626.26" cy="308.37" r="3.4" fill="#4b9bf6"/>
<path d="M664.48 300.91 V316.57 M660.08 300.91 H668.88 M660.08 316.57 H668.88" fill="none" stroke="#4b9bf6" stroke-width="1.9"/>
<circle cx="664.48" cy="308.74" r="3.4" fill="#4b9bf6"/>
<polyline points="511.6,324.03 549.82,296.43 588.04,273.68 626.26,235.26 664.48,228.92" fill="none" stroke="#f87e80" stroke-width="2.4" stroke-linejoin="round"/>
<circle cx="511.6" cy="324.03" r="3.4" fill="#f87e80"/>
<path d="M549.82 289.72 V303.15 M545.4200000000001 289.72 H554.22 M545.4200000000001 303.15 H554.22" fill="none" stroke="#f87e80" stroke-width="1.9"/>
<circle cx="549.82" cy="296.43" r="3.4" fill="#f87e80"/>
<path d="M588.04 260.62 V286.74 M583.64 260.62 H592.4399999999999 M583.64 286.74 H592.4399999999999" fill="none" stroke="#f87e80" stroke-width="1.9"/>
<circle cx="588.04" cy="273.68" r="3.4" fill="#f87e80"/>
<path d="M626.26 222.21 V248.32 M621.86 222.21 H630.66 M621.86 248.32 H630.66" fill="none" stroke="#f87e80" stroke-width="1.9"/>
<circle cx="626.26" cy="235.26" r="3.4" fill="#f87e80"/>
<path d="M664.48 221.09 V236.75 M660.08 221.09 H668.88 M660.08 236.75 H668.88" fill="none" stroke="#f87e80" stroke-width="1.9"/>
<circle cx="664.48" cy="228.92" r="3.4" fill="#f87e80"/>
<polyline points="511.6,327.76 549.82,315.08 588.04,307.25 626.26,294.57 664.48,319.19" fill="none" stroke="#000000" stroke-width="2.4" stroke-linejoin="round"/>
<circle cx="511.6" cy="327.76" r="3.4" fill="#000000"/>
<path d="M549.82 312.29 V317.88 M545.4200000000001 312.29 H554.22 M545.4200000000001 317.88 H554.22" fill="none" stroke="#000000" stroke-width="1.9"/>
<rect x="546.32" y="311.58" width="7" height="7" fill="#000000"/>
<path d="M588.04 305.76 V308.74 M583.64 305.76 H592.4399999999999 M583.64 308.74 H592.4399999999999" fill="none" stroke="#000000" stroke-width="1.9"/>
<circle cx="588.04" cy="307.25" r="3.4" fill="#000000"/>
<path d="M626.26 289.35 V299.79 M621.86 289.35 H630.66 M621.86 299.79 H630.66" fill="none" stroke="#000000" stroke-width="1.9"/>
<path d="M622.46 297.77 L630.06 297.77 L626.26 290.57 Z" fill="#000000"/>
<path d="M664.48 316.2 V322.17 M660.08 316.2 H668.88 M660.08 322.17 H668.88" fill="none" stroke="#000000" stroke-width="1.9"/>
<rect x="660.98" y="315.69" width="7" height="7" fill="#000000"/>
<text x="563.4" y="222" font-size="14.4" fill="#1a1a1a" textLength="56.8" lengthAdjust="spacingAndGlyphs"><tspan font-style="italic">P</tspan>&lt;0.0001</text>
<text x="637.2" y="210.3" font-size="14.4" fill="#1a1a1a" textLength="56.8" lengthAdjust="spacingAndGlyphs"><tspan font-style="italic">P</tspan>&lt;0.0001</text>
<text x="666.8" y="262.3" font-size="14.4" fill="#1a1a1a" textLength="56.9" lengthAdjust="spacingAndGlyphs"><tspan font-style="italic">P</tspan>=0.0001</text>
<text x="607.2" y="272.5" font-size="14.4" fill="#1a1a1a" textLength="57.3" lengthAdjust="spacingAndGlyphs"><tspan font-style="italic">P</tspan>=0.0013</text>
<path d="M670.6 226.2 H675.8 V242.6 H670.6" fill="none" stroke="#000" stroke-width="2.4"/>
<path d="M672 303.2 H677 V320.8 H672" fill="none" stroke="#000" stroke-width="2.4"/>
<text x="679" y="238.6" font-size="14.4" textLength="22" lengthAdjust="spacingAndGlyphs" font-style="normal" fill="#1a1a1a">n.s.</text>
<text x="680.6" y="317.2" font-size="14.4" textLength="22.4" lengthAdjust="spacingAndGlyphs" font-style="normal" fill="#1a1a1a">n.s.</text>
<line x1="784.4" y1="99.6" x2="811.4" y2="99.6" stroke="#000000" stroke-width="3.8"/>
<text x="826.8" y="106.2" font-size="13.5" textLength="84.4" lengthAdjust="spacingAndGlyphs" fill="#1a1a1a">CSE<tspan font-size="9.45" dy="-5.94">f/f</tspan><tspan dy="5.94">+Saline</tspan></text>
<line x1="784.4" y1="123.6" x2="811.4" y2="123.6" stroke="#f87e80" stroke-width="3.8"/>
<text x="826.8" y="130.6" font-size="13.5" textLength="77.2" lengthAdjust="spacingAndGlyphs" fill="#1a1a1a">CSE<tspan font-size="9.45" dy="-5.94">f/f</tspan><tspan dy="5.94">+AngII</tspan></text>
<line x1="784.4" y1="150.2" x2="811.4" y2="150.2" stroke="#4b9bf6" stroke-width="3.8"/>
<text x="826.8" y="157.4" font-size="13.5" textLength="97.2" lengthAdjust="spacingAndGlyphs" fill="#1a1a1a">CSE<tspan font-size="9.45" dy="-5.94">&#916;EC</tspan><tspan dy="5.94">+Saline</tspan></text>
<line x1="784.4" y1="177.2" x2="811.4" y2="177.2" stroke="#b9ae6f" stroke-width="3.8"/>
<text x="826.8" y="183.8" font-size="13.5" textLength="89.6" lengthAdjust="spacingAndGlyphs" fill="#1a1a1a">CSE<tspan font-size="9.45" dy="-5.94">&#916;EC</tspan><tspan dy="5.94">+AngII</tspan></text>
<rect x="829.4" y="354.2" width="23.4" height="14.300000000000011" fill="#f87e80"/>
<rect x="898.8" y="249.26" width="23" height="119.24000000000001" fill="#b9ae6f"/>
<path d="M783.6 217.45 V368.5 H934.8" fill="none" stroke="#000" stroke-width="2.5"/>
<line x1="773" x2="783.6" y1="368.5" y2="368.5" stroke="#000" stroke-width="2.5"/>
<text x="770.0" y="373.3" font-size="13.4" text-anchor="end" font-weight="normal" font-style="normal" fill="#1a1a1a" >0</text>
<line x1="773" x2="783.6" y1="338.54" y2="338.54" stroke="#000" stroke-width="2.5"/>
<text x="770.0" y="343.34" font-size="13.4" text-anchor="end" font-weight="normal" font-style="normal" fill="#1a1a1a" >20</text>
<line x1="773" x2="783.6" y1="308.58" y2="308.58" stroke="#000" stroke-width="2.5"/>
<text x="770.0" y="313.38" font-size="13.4" text-anchor="end" font-weight="normal" font-style="normal" fill="#1a1a1a" >40</text>
<line x1="773" x2="783.6" y1="278.62" y2="278.62" stroke="#000" stroke-width="2.5"/>
<text x="770.0" y="283.42" font-size="13.4" text-anchor="end" font-weight="normal" font-style="normal" fill="#1a1a1a" >60</text>
<line x1="773" x2="783.6" y1="248.66" y2="248.66" stroke="#000" stroke-width="2.5"/>
<text x="770.0" y="253.46" font-size="13.4" text-anchor="end" font-weight="normal" font-style="normal" fill="#1a1a1a" >80</text>
<line x1="773" x2="783.6" y1="218.7" y2="218.7" stroke="#000" stroke-width="2.5"/>
<text x="770.0" y="223.5" font-size="13.4" text-anchor="end" font-weight="normal" font-style="normal" fill="#1a1a1a" >100</text>
<text transform="translate(735.8,296.4) rotate(-90)" font-size="13.8" text-anchor="middle" textLength="116.6" lengthAdjust="spacingAndGlyphs" fill="#1a1a1a">AAD incidence (%)</text>
<text x="793.6" y="364.2" font-size="13.2" textLength="23.2" lengthAdjust="spacingAndGlyphs" font-style="normal" fill="#1a1a1a">N.D</text>
<text x="863.8" y="364.2" font-size="13.2" textLength="23.2" lengthAdjust="spacingAndGlyphs" font-style="normal" fill="#1a1a1a">N.D</text>
<text x="829" y="345.8" font-size="13.2" textLength="24.6" lengthAdjust="spacingAndGlyphs" font-style="normal" fill="#1a1a1a">2/15</text>
<text x="898.2" y="241.6" font-size="13.2" textLength="25.6" lengthAdjust="spacingAndGlyphs" font-style="normal" fill="#1a1a1a">9/15</text>
<path d="M841.4 229.8 V218 H908.4 V229.8" fill="none" stroke="#000" stroke-width="2.4"/>
<text x="846.6" y="207.1" font-size="14.4" fill="#1a1a1a" textLength="56.8" lengthAdjust="spacingAndGlyphs"><tspan font-style="italic">P</tspan>=0.0209</text>
<text x="71.2" y="443.4" font-size="13.9" textLength="83.8" lengthAdjust="spacingAndGlyphs" fill="#1a1a1a">CSE<tspan font-size="7.78" dy="-5.0">f/f</tspan><tspan dy="5.0">+Saline</tspan></text>
<text x="212.2" y="445.6" font-size="13.9" textLength="94.6" lengthAdjust="spacingAndGlyphs" fill="#1a1a1a">CSE<tspan font-size="8.62" dy="-5.0">&#916;EC</tspan><tspan dy="5.0">+Saline</tspan></text>
<text x="72.4" y="513.6" font-size="13.9" textLength="81.4" lengthAdjust="spacingAndGlyphs" fill="#1a1a1a">CSE<tspan font-size="7.78" dy="-5.0">f/f</tspan><tspan dy="5.0">+Ang II</tspan></text>
<text x="213.2" y="515.4" font-size="13.9" textLength="92.4" lengthAdjust="spacingAndGlyphs" fill="#1a1a1a">CSE<tspan font-size="8.62" dy="-5.0">&#916;EC</tspan><tspan dy="5.0">+Ang II</tspan></text>
<clipPath id="us0"><rect x="40.8" y="448.2" width="140.2" height="49.9"/></clipPath>
<rect x="40.8" y="448.2" width="140.2" height="49.9" fill="#080808"/>
<clipPath id="us1"><rect x="184.5" y="447.9" width="140.7" height="50.1"/></clipPath>
<rect x="184.5" y="447.9" width="140.7" height="50.1" fill="#080808"/>
<clipPath id="us2"><rect x="41.0" y="522.1" width="140.0" height="49.5"/></clipPath>
<rect x="41.0" y="522.1" width="140.0" height="49.5" fill="#080808"/>
<clipPath id="us3"><rect x="184.5" y="522.3" width="140.5" height="49.2"/></clipPath>
<rect x="184.5" y="522.3" width="140.5" height="49.2" fill="#080808"/>
<g clip-path="url(#us0)"><g filter="url(#speck0)"><g filter="url(#b1)"><rect x="40.8" y="448.2" width="140.2" height="49.9" fill="#000"/><path d="M40.8 454.2 L80.8 453.2 L120.8 455.2 L180.8 456.2" fill="none" stroke="#131313" stroke-width="11" stroke-linecap="round" opacity="1"/><path d="M40.8 464.2 L80.8 463.2 L110.8 464.2 L140.8 468.2 L180.8 474.2" fill="none" stroke="#141414" stroke-width="9" stroke-linecap="round" opacity="1"/><path d="M110.8 461.2 L120.8 456.2 L132.8 456.2 L138.8 462.2 L130.8 467.2 L118.8 466.2 L110.8 461.2" fill="none" stroke="#4a4a4a" stroke-width="2.4" stroke-linecap="round" opacity="0.9"/><path d="M140.8 460.2 L155.8 464.2 L176.8 466.2" fill="none" stroke="#303030" stroke-width="3" stroke-linecap="round" opacity="0.8"/><path d="M48.8 468.8 L70.8 469.8 L96.8 472.4" fill="none" stroke="#7d7d7d" stroke-width="1.8" stroke-linecap="round" opacity="1"/><path d="M40.8 481.2 L70.8 482.2 L100.8 485.2 L140.8 490.2 L180.8 494.2" fill="none" stroke="#121212" stroke-width="6" stroke-linecap="round" opacity="1"/><path d="M42.8 474.6 L99.8 477.4 L146.8 483.4 L178.8 488.6" fill="none" stroke="#050505" stroke-width="6.6" stroke-linecap="round" opacity="1"/><path d="M102.8 475.2 L140.8 479.8 L176.8 485.2" fill="none" stroke="#292929" stroke-width="1.2" stroke-linecap="round" opacity="0.8"/><path d="M44.8 487.0 L65.8 485.8 L88.8 485.6 L110.8 487.2 L127.8 488.6 L150.8 490.2 L177.8 491.8" fill="none" stroke="#909090" stroke-width="2.8" stroke-linecap="round" opacity="1"/><path d="M44.8 493.2 L100.8 493.2 L177.8 496.8" fill="none" stroke="#131313" stroke-width="3.4" stroke-linecap="round" opacity="1"/></g></g><g filter="url(#b03)" opacity="0.8"><path d="M72.4 472.6 L83.8 472.6 M72.4 475.4 L95.8 475.4" stroke="#0f8f98" stroke-width="1.3" stroke-dasharray="1.6 0.7"/><path d="M97.8 472.4 L97.8 479.0" stroke="#0f8f98" stroke-width="0.8"/></g><path d="M100.6 473.0 L98.4 479.8" stroke="#f4f4f4" stroke-width="1.6"/><rect x="40.4" y="461.2" width="3" height="22" fill="url(#gsb)" filter="url(#b03)"/><circle cx="172.2" cy="452.0" r="0.9" fill="#168cb4" filter="url(#b03)"/><circle cx="177.0" cy="457.8" r="0.9" fill="#a89a1c" filter="url(#b03)"/></g>
<g clip-path="url(#us2)"><g filter="url(#speck0)"><g filter="url(#b1)"><rect x="41.0" y="522.1" width="140.0" height="49.5" fill="#000"/><path d="M41.0 528.1 L81.0 527.1 L121.0 529.1 L181.0 530.1" fill="none" stroke="#131313" stroke-width="11" stroke-linecap="round" opacity="1"/><path d="M41.0 538.1 L81.0 537.1 L111.0 538.1 L141.0 542.1 L181.0 548.1" fill="none" stroke="#141414" stroke-width="9" stroke-linecap="round" opacity="1"/><path d="M111.0 535.1 L121.0 530.1 L133.0 530.1 L139.0 536.1 L131.0 541.1 L119.0 540.1 L111.0 535.1" fill="none" stroke="#4a4a4a" stroke-width="2.4" stroke-linecap="round" opacity="0.9"/><path d="M141.0 534.1 L156.0 538.1 L177.0 540.1" fill="none" stroke="#303030" stroke-width="3" stroke-linecap="round" opacity="0.8"/><path d="M49.0 542.7 L71.0 543.7 L97.0 546.3" fill="none" stroke="#7d7d7d" stroke-width="1.8" stroke-linecap="round" opacity="1"/><path d="M41.0 555.1 L71.0 556.1 L101.0 559.1 L141.0 564.1 L181.0 568.1" fill="none" stroke="#121212" stroke-width="6" stroke-linecap="round" opacity="1"/><path d="M43.0 548.5 L100.0 551.3 L147.0 557.3 L179.0 562.5" fill="none" stroke="#050505" stroke-width="6.6" stroke-linecap="round" opacity="1"/><path d="M103.0 549.1 L141.0 553.7 L177.0 559.1" fill="none" stroke="#292929" stroke-width="1.2" stroke-linecap="round" opacity="0.8"/><path d="M45.0 560.9 L66.0 559.7 L89.0 559.5 L111.0 561.1 L128.0 562.5 L151.0 564.1 L178.0 565.7" fill="none" stroke="#909090" stroke-width="2.8" stroke-linecap="round" opacity="1"/><path d="M45.0 567.1 L101.0 567.1 L178.0 570.7" fill="none" stroke="#131313" stroke-width="3.4" stroke-linecap="round" opacity="1"/></g></g><g filter="url(#b03)" opacity="0.8"><path d="M72.6 546.5 L84.0 546.5 M72.6 549.3 L96.0 549.3" stroke="#0f8f98" stroke-width="1.3" stroke-dasharray="1.6 0.7"/><path d="M98.0 546.3 L98.0 552.9" stroke="#0f8f98" stroke-width="0.8"/></g><path d="M100.8 546.9 L98.6 553.7" stroke="#f4f4f4" stroke-width="1.6"/><rect x="40.6" y="535.1" width="3" height="22" fill="url(#gsb)" filter="url(#b03)"/><circle cx="172.2" cy="525.9" r="0.9" fill="#168cb4" filter="url(#b03)"/><circle cx="177.0" cy="531.7" r="0.9" fill="#a89a1c" filter="url(#b03)"/></g>
<rect x="164.6" y="493.6" width="14.6" height="2.8" fill="#f2f2f2"/>
<g clip-path="url(#us1)"><g filter="url(#speck1)"><g filter="url(#b1)"><rect x="184.5" y="447.9" width="140.7" height="50.1" fill="#000"/><path d="M184.5 452.9 L244.5 451.9 L324.5 452.9" fill="none" stroke="#0f0f0f" stroke-width="9" stroke-linecap="round" opacity="1"/><path d="M184.5 460.9 L214.5 459.9 L254.5 460.9 L324.5 461.9" fill="none" stroke="#131313" stroke-width="8" stroke-linecap="round" opacity="1"/><path d="M192.5 466.9 L202.5 460.9 L214.5 460.5 L224.5 464.9" fill="none" stroke="#303030" stroke-width="2" stroke-linecap="round" opacity="0.8"/><path d="M229.5 466.3 L254.5 465.3 L284.5 465.7 L320.5 467.7" fill="none" stroke="#777777" stroke-width="2.2" stroke-linecap="round" opacity="1"/><path d="M204.5 467.9 L224.5 468.3 L242.5 467.9" fill="none" stroke="#616161" stroke-width="1.6" stroke-linecap="round" opacity="0.9"/><path d="M184.5 480.9 L244.5 480.9 L324.5 482.9" fill="none" stroke="#131313" stroke-width="8" stroke-linecap="round" opacity="1"/><path d="M188.5 473.9 L214.5 472.9 L244.5 471.9 L284.5 472.9 L322.5 474.3" fill="none" stroke="#040404" stroke-width="6.4" stroke-linecap="round" opacity="1"/><path d="M208.5 476.3 L244.5 477.3 L284.5 478.5 L320.5 480.5" fill="none" stroke="#686868" stroke-width="1.6" stroke-linecap="round" opacity="0.9"/><path d="M188.5 486.9 L209.5 485.5 L229.5 486.9 L249.5 484.9 L269.5 484.3 L294.5 484.7 L320.5 485.5" fill="none" stroke="#909090" stroke-width="2.8" stroke-linecap="round" opacity="1"/><path d="M188.5 491.9 L254.5 491.5 L321.5 492.5" fill="none" stroke="#121212" stroke-width="3.4" stroke-linecap="round" opacity="1"/></g></g><g filter="url(#b03)" opacity="0.8"><path d="M214.9 467.9 L226.5 467.9 M214.9 470.7 L235.5 470.7" stroke="#0f8f98" stroke-width="1.3" stroke-dasharray="1.6 0.7"/><path d="M240.1 468.1 L240.1 476.3" stroke="#0f8f98" stroke-width="0.8"/></g><path d="M246.4 468.5 L244.0 476.8" stroke="#f4f4f4" stroke-width="1.6"/><rect x="184.1" y="460.9" width="3" height="22" fill="url(#gsb)" filter="url(#b03)"/><circle cx="316.4" cy="451.7" r="0.9" fill="#168cb4" filter="url(#b03)"/><circle cx="320.8" cy="466.5" r="0.9" fill="#a89a1c" filter="url(#b03)"/></g>
<g clip-path="url(#us3)"><g filter="url(#speck1)"><g filter="url(#b1)"><rect x="184.5" y="522.3" width="140.5" height="49.2" fill="#000"/><path d="M184.5 526.9 L244.5 526.3 L324.5 527.3" fill="none" stroke="#0f0f0f" stroke-width="8" stroke-linecap="round" opacity="1"/><path d="M184.5 534.3 L224.5 534.3 L324.5 536.3" fill="none" stroke="#131313" stroke-width="8" stroke-linecap="round" opacity="1"/><path d="M189.5 532.3 L204.5 531.7 L219.5 534.3 L230.5 536.7 L242.5 533.3 L254.5 534.7 L274.5 538.3 L318.5 539.3" fill="none" stroke="#6c6c6c" stroke-width="2" stroke-linecap="round" opacity="0.9"/><path d="M184.5 558.3 L244.5 560.3 L324.5 559.3" fill="none" stroke="#131313" stroke-width="9" stroke-linecap="round" opacity="1"/><path d="M188.5 546.3 L214.5 548.3 L244.5 549.3 L284.5 550.3 L322.5 549.7" fill="none" stroke="#040404" stroke-width="9.5" stroke-linecap="round" opacity="1"/><path d="M190.5 539.7 L204.5 542.3 L224.5 543.3 L242.5 544.3" fill="none" stroke="#686868" stroke-width="1.8" stroke-linecap="round" opacity="0.9"/><path d="M258.5 539.7 L274.5 542.3 L294.5 544.3 L318.5 544.3" fill="none" stroke="#4a4a4a" stroke-width="1.6" stroke-linecap="round" opacity="0.85"/><path d="M189.5 550.3 L204.5 550.9 L224.5 552.3 L242.5 553.3" fill="none" stroke="#303030" stroke-width="1.6" stroke-linecap="round" opacity="0.8"/><path d="M188.5 555.9 L199.5 558.9 L214.5 557.7 L229.5 558.9 L246.5 560.1 L264.5 560.5 L284.5 559.7 L304.5 559.1 L318.5 558.7" fill="none" stroke="#909090" stroke-width="2.8" stroke-linecap="round" opacity="1"/><path d="M188.5 564.9 L254.5 566.3 L321.5 565.3" fill="none" stroke="#101010" stroke-width="3.4" stroke-linecap="round" opacity="1"/></g></g><g filter="url(#b03)" opacity="0.8"><path d="M232.5 538.5 L244.5 538.5 M232.5 541.3 L250.5 541.3" stroke="#0f8f98" stroke-width="1.3" stroke-dasharray="1.6 0.7"/></g><path d="M255.1 536.7 L247.3 559.7" stroke="#f4f4f4" stroke-width="1.7"/><rect x="184.1" y="535.3" width="3" height="22" fill="url(#gsb)" filter="url(#b03)"/><circle cx="316.2" cy="526.0999999999999" r="0.9" fill="#168cb4" filter="url(#b03)"/><circle cx="320.6" cy="540.9" r="0.9" fill="#a89a1c" filter="url(#b03)"/></g>
<path d="M401.0 433.54999999999995 V584.5 H552.4" fill="none" stroke="#000" stroke-width="2.5"/>
<line x1="390.4" x2="401.0" y1="584.5" y2="584.5" stroke="#000" stroke-width="2.5"/>
<text x="387.6" y="589.3" font-size="13.4" text-anchor="end" font-weight="normal" font-style="normal" fill="#1a1a1a" >0.0</text>
<line x1="390.4" x2="401.0" y1="554.56" y2="554.56" stroke="#000" stroke-width="2.5"/>
<text x="387.6" y="559.36" font-size="13.4" text-anchor="end" font-weight="normal" font-style="normal" fill="#1a1a1a" >0.5</text>
<line x1="390.4" x2="401.0" y1="524.62" y2="524.62" stroke="#000" stroke-width="2.5"/>
<text x="387.6" y="529.42" font-size="13.4" text-anchor="end" font-weight="normal" font-style="normal" fill="#1a1a1a" >1.0</text>
<line x1="390.4" x2="401.0" y1="494.68" y2="494.68" stroke="#000" stroke-width="2.5"/>
<text x="387.6" y="499.48" font-size="13.4" text-anchor="end" font-weight="normal" font-style="normal" fill="#1a1a1a" >1.5</text>
<line x1="390.4" x2="401.0" y1="464.74" y2="464.74" stroke="#000" stroke-width="2.5"/>
<text x="387.6" y="469.54" font-size="13.4" text-anchor="end" font-weight="normal" font-style="normal" fill="#1a1a1a" >2.0</text>
<line x1="390.4" x2="401.0" y1="434.8" y2="434.8" stroke="#000" stroke-width="2.5"/>
<text x="387.6" y="439.6" font-size="13.4" text-anchor="end" font-weight="normal" font-style="normal" fill="#1a1a1a" >2.5</text>
<text transform="translate(356.5,512.9) rotate(-90)" font-size="13.8" text-anchor="middle" textLength="178.6" lengthAdjust="spacingAndGlyphs" fill="#1a1a1a">AbAo Maximal diameter(mm)</text>
<path d="M453.8 452.6 V440.3 H525 V452.6" fill="none" stroke="#000" stroke-width="2.4"/>
<text x="460.4" y="428.5" font-size="14.4" fill="#1a1a1a" textLength="57.6" lengthAdjust="spacingAndGlyphs"><tspan font-style="italic">P</tspan>=0.0257</text>
<path d="M425 519 V533.4 M420 519 H430 M420 533.4 H430 M417 526.2 H433" fill="none" stroke="#111" stroke-width="1.9"/>
<circle cx="423.8" cy="513.8" r="3.6" fill="#bdbdbd" fill-opacity="0.85" stroke="#111" stroke-width="1.2"/><circle cx="426.4" cy="518.3" r="3.6" fill="#bdbdbd" fill-opacity="0.85" stroke="#111" stroke-width="1.2"/><circle cx="420.4" cy="520.9" r="3.6" fill="#bdbdbd" fill-opacity="0.85" stroke="#111" stroke-width="1.2"/><circle cx="418.6" cy="526.1" r="3.6" fill="#bdbdbd" fill-opacity="0.85" stroke="#111" stroke-width="1.2"/><circle cx="424.4" cy="527.4" r="3.6" fill="#bdbdbd" fill-opacity="0.85" stroke="#111" stroke-width="1.2"/><circle cx="430.9" cy="527.4" r="3.6" fill="#bdbdbd" fill-opacity="0.85" stroke="#111" stroke-width="1.2"/><circle cx="416.5" cy="531.3" r="3.6" fill="#bdbdbd" fill-opacity="0.85" stroke="#111" stroke-width="1.2"/><circle cx="425.7" cy="531.3" r="3.6" fill="#bdbdbd" fill-opacity="0.85" stroke="#111" stroke-width="1.2"/><circle cx="433.5" cy="528.7" r="3.6" fill="#bdbdbd" fill-opacity="0.85" stroke="#111" stroke-width="1.2"/><circle cx="421.7" cy="535.2" r="3.6" fill="#bdbdbd" fill-opacity="0.85" stroke="#111" stroke-width="1.2"/><circle cx="428.3" cy="535.2" r="3.6" fill="#bdbdbd" fill-opacity="0.85" stroke="#111" stroke-width="1.2"/><circle cx="419.1" cy="539.7" r="3.6" fill="#bdbdbd" fill-opacity="0.85" stroke="#111" stroke-width="1.2"/><circle cx="425.7" cy="537.8" r="3.6" fill="#bdbdbd" fill-opacity="0.85" stroke="#111" stroke-width="1.2"/>
<path d="M458.4 512.8 V532.4 M452.4 512.8 H464.4 M452.4 532.4 H464.4 M448.4 522.6 H468.4" fill="none" stroke="#f87e80" stroke-width="1.9"/>
<circle cx="458.3" cy="489.6" r="3.6" fill="#fcdcdc" fill-opacity="0.85" stroke="#f87e80" stroke-width="1.2"/><circle cx="461.4" cy="508.4" r="3.6" fill="#fcdcdc" fill-opacity="0.85" stroke="#f87e80" stroke-width="1.2"/><circle cx="453" cy="511" r="3.6" fill="#fcdcdc" fill-opacity="0.85" stroke="#f87e80" stroke-width="1.2"/><circle cx="457" cy="513.6" r="3.6" fill="#fcdcdc" fill-opacity="0.85" stroke="#f87e80" stroke-width="1.2"/><circle cx="464" cy="513.6" r="3.6" fill="#fcdcdc" fill-opacity="0.85" stroke="#f87e80" stroke-width="1.2"/><circle cx="455.7" cy="518.3" r="3.6" fill="#fcdcdc" fill-opacity="0.85" stroke="#f87e80" stroke-width="1.2"/><circle cx="464.8" cy="518.3" r="3.6" fill="#fcdcdc" fill-opacity="0.85" stroke="#f87e80" stroke-width="1.2"/><circle cx="449.9" cy="524" r="3.6" fill="#fcdcdc" fill-opacity="0.85" stroke="#f87e80" stroke-width="1.2"/><circle cx="457.7" cy="524.8" r="3.6" fill="#fcdcdc" fill-opacity="0.85" stroke="#f87e80" stroke-width="1.2"/><circle cx="466.1" cy="523.5" r="3.6" fill="#fcdcdc" fill-opacity="0.85" stroke="#f87e80" stroke-width="1.2"/><circle cx="451.7" cy="531.3" r="3.6" fill="#fcdcdc" fill-opacity="0.85" stroke="#f87e80" stroke-width="1.2"/><circle cx="458.3" cy="532.6" r="3.6" fill="#fcdcdc" fill-opacity="0.85" stroke="#f87e80" stroke-width="1.2"/><circle cx="467.4" cy="531.3" r="3.6" fill="#fcdcdc" fill-opacity="0.85" stroke="#f87e80" stroke-width="1.2"/><circle cx="449.9" cy="536.5" r="3.6" fill="#fcdcdc" fill-opacity="0.85" stroke="#f87e80" stroke-width="1.2"/><circle cx="463" cy="537.8" r="3.6" fill="#fcdcdc" fill-opacity="0.85" stroke="#f87e80" stroke-width="1.2"/>
<circle cx="492.7" cy="511" r="3.6" fill="#a4cbfa" fill-opacity="0.85" stroke="#4b9bf6" stroke-width="1.2"/><circle cx="492.7" cy="516.2" r="3.6" fill="#a4cbfa" fill-opacity="0.85" stroke="#4b9bf6" stroke-width="1.2"/><circle cx="488.3" cy="523.5" r="3.6" fill="#a4cbfa" fill-opacity="0.85" stroke="#4b9bf6" stroke-width="1.2"/><circle cx="494.8" cy="524" r="3.6" fill="#a4cbfa" fill-opacity="0.85" stroke="#4b9bf6" stroke-width="1.2"/><circle cx="498.7" cy="524" r="3.6" fill="#a4cbfa" fill-opacity="0.85" stroke="#4b9bf6" stroke-width="1.2"/><circle cx="487" cy="530" r="3.6" fill="#a4cbfa" fill-opacity="0.85" stroke="#4b9bf6" stroke-width="1.2"/><circle cx="492.2" cy="530" r="3.6" fill="#a4cbfa" fill-opacity="0.85" stroke="#4b9bf6" stroke-width="1.2"/><circle cx="497.4" cy="530" r="3.6" fill="#a4cbfa" fill-opacity="0.85" stroke="#4b9bf6" stroke-width="1.2"/><circle cx="484.4" cy="533.4" r="3.6" fill="#a4cbfa" fill-opacity="0.85" stroke="#4b9bf6" stroke-width="1.2"/><circle cx="489.6" cy="534.4" r="3.6" fill="#a4cbfa" fill-opacity="0.85" stroke="#4b9bf6" stroke-width="1.2"/><circle cx="500" cy="533.4" r="3.6" fill="#a4cbfa" fill-opacity="0.85" stroke="#4b9bf6" stroke-width="1.2"/><circle cx="493.5" cy="537.8" r="3.6" fill="#a4cbfa" fill-opacity="0.85" stroke="#4b9bf6" stroke-width="1.2"/><circle cx="496" cy="535.2" r="3.6" fill="#a4cbfa" fill-opacity="0.85" stroke="#4b9bf6" stroke-width="1.2"/>
<path d="M493.2 515.8 V539 M487.2 515.8 H499.2 M487.2 539 H499.2 M483.2 527.4 H503.2" fill="none" stroke="#4b9bf6" stroke-width="1.9"/>
<circle cx="524.8" cy="468.2" r="3.6" fill="#e2ddc0" fill-opacity="0.85" stroke="#a89c5a" stroke-width="1.2"/><circle cx="530.5" cy="472.6" r="3.6" fill="#e2ddc0" fill-opacity="0.85" stroke="#a89c5a" stroke-width="1.2"/><circle cx="519.6" cy="494.3" r="3.6" fill="#e2ddc0" fill-opacity="0.85" stroke="#a89c5a" stroke-width="1.2"/><circle cx="529.2" cy="493.5" r="3.6" fill="#e2ddc0" fill-opacity="0.85" stroke="#a89c5a" stroke-width="1.2"/><circle cx="535.8" cy="496.1" r="3.6" fill="#e2ddc0" fill-opacity="0.85" stroke="#a89c5a" stroke-width="1.2"/><circle cx="523.5" cy="501.3" r="3.6" fill="#e2ddc0" fill-opacity="0.85" stroke="#a89c5a" stroke-width="1.2"/><circle cx="531.3" cy="502.6" r="3.6" fill="#e2ddc0" fill-opacity="0.85" stroke="#a89c5a" stroke-width="1.2"/><circle cx="518.3" cy="511" r="3.6" fill="#e2ddc0" fill-opacity="0.85" stroke="#a89c5a" stroke-width="1.2"/><circle cx="526.1" cy="510.4" r="3.6" fill="#e2ddc0" fill-opacity="0.85" stroke="#a89c5a" stroke-width="1.2"/><circle cx="536" cy="510" r="3.6" fill="#e2ddc0" fill-opacity="0.85" stroke="#a89c5a" stroke-width="1.2"/><circle cx="530" cy="516.2" r="3.6" fill="#e2ddc0" fill-opacity="0.85" stroke="#a89c5a" stroke-width="1.2"/><circle cx="530.8" cy="526.1" r="3.6" fill="#e2ddc0" fill-opacity="0.85" stroke="#a89c5a" stroke-width="1.2"/><circle cx="523" cy="531.3" r="3.6" fill="#e2ddc0" fill-opacity="0.85" stroke="#a89c5a" stroke-width="1.2"/><circle cx="528.7" cy="530.8" r="3.6" fill="#e2ddc0" fill-opacity="0.85" stroke="#a89c5a" stroke-width="1.2"/>
<path d="M527.8 483.2 V520.8 M521.8 483.2 H533.8 M521.8 520.8 H533.8 M516.8 502 H538.8" fill="none" stroke="#a89c5a" stroke-width="1.9"/>
<circle cx="567.4" cy="418.7" r="3.3" fill="#bdbdbd" stroke="#111" stroke-width="1.3"/>
<text x="596.6" y="425.4" font-size="13.5" textLength="83.0" lengthAdjust="spacingAndGlyphs" fill="#1a1a1a">CSE<tspan font-size="9.45" dy="-5.94">f/f</tspan><tspan dy="5.94">+Saline</tspan></text>
<circle cx="567.4" cy="453" r="3.3" fill="#fcdcdc" stroke="#f87e80" stroke-width="1.3"/>
<text x="596.6" y="459.4" font-size="13.5" textLength="76.2" lengthAdjust="spacingAndGlyphs" fill="#1a1a1a">CSE<tspan font-size="9.45" dy="-5.94">f/f</tspan><tspan dy="5.94">+AngII</tspan></text>
<circle cx="567.4" cy="482" r="3.3" fill="#a4cbfa" stroke="#4b9bf6" stroke-width="1.3"/>
<text x="596.6" y="488.6" font-size="13.5" textLength="96.4" lengthAdjust="spacingAndGlyphs" fill="#1a1a1a">CSE<tspan font-size="9.45" dy="-5.94">&#916;EC</tspan><tspan dy="5.94">+Saline</tspan></text>
<circle cx="567.4" cy="512.3" r="3.3" fill="#e2ddc0" stroke="#a89c5a" stroke-width="1.3"/>
<text x="596.6" y="518.8" font-size="13.5" textLength="89.0" lengthAdjust="spacingAndGlyphs" fill="#1a1a1a">CSE<tspan font-size="9.45" dy="-5.94">&#916;EC</tspan><tspan dy="5.94">+AngII</tspan></text>
<path d="M766.0 429.03 V580.1 H917.2" fill="none" stroke="#000" stroke-width="2.5"/>
<line x1="755.6" x2="766.0" y1="580.1" y2="580.1" stroke="#000" stroke-width="2.5"/>
<text x="752.6" y="584.9" font-size="13.4" text-anchor="end" font-weight="normal" font-style="normal" fill="#1a1a1a" >0.0</text>
<line x1="755.6" x2="766.0" y1="530.16" y2="530.16" stroke="#000" stroke-width="2.5"/>
<text x="752.6" y="534.96" font-size="13.4" text-anchor="end" font-weight="normal" font-style="normal" fill="#1a1a1a" >0.2</text>
<line x1="755.6" x2="766.0" y1="480.22" y2="480.22" stroke="#000" stroke-width="2.5"/>
<text x="752.6" y="485.02" font-size="13.4" text-anchor="end" font-weight="normal" font-style="normal" fill="#1a1a1a" >0.4</text>
<line x1="755.6" x2="766.0" y1="430.28" y2="430.28" stroke="#000" stroke-width="2.5"/>
<text x="752.6" y="435.08" font-size="13.4" text-anchor="end" font-weight="normal" font-style="normal" fill="#1a1a1a" >0.6</text>
<text transform="translate(722.0,508.4) rotate(-90)" font-size="13.6" text-anchor="middle" textLength="61.4" lengthAdjust="spacingAndGlyphs" fill="#1a1a1a">Aw/bw(%)</text>
<path d="M821.8 451.4 V446.4 H890.6 V451.4" fill="none" stroke="#000" stroke-width="2.4"/>
<text x="826.8" y="437.2" font-size="14.4" fill="#1a1a1a" textLength="58" lengthAdjust="spacingAndGlyphs"><tspan font-style="italic">P</tspan>=0.0201</text>
<path d="M789.4 562.2 V568.6 M785.4 562.2 H793.4 M785.4 568.6 H793.4 M782.4 565.4 H796.4" fill="none" stroke="#111" stroke-width="1.9"/>
<circle cx="786.1" cy="560" r="3.6" fill="#bdbdbd" fill-opacity="0.85" stroke="#111" stroke-width="1.2"/><circle cx="792.6" cy="559.6" r="3.6" fill="#bdbdbd" fill-opacity="0.85" stroke="#111" stroke-width="1.2"/><circle cx="782.2" cy="564" r="3.6" fill="#bdbdbd" fill-opacity="0.85" stroke="#111" stroke-width="1.2"/><circle cx="788.7" cy="564" r="3.6" fill="#bdbdbd" fill-opacity="0.85" stroke="#111" stroke-width="1.2"/><circle cx="796.5" cy="562.7" r="3.6" fill="#bdbdbd" fill-opacity="0.85" stroke="#111" stroke-width="1.2"/><circle cx="781.4" cy="567.9" r="3.6" fill="#bdbdbd" fill-opacity="0.85" stroke="#111" stroke-width="1.2"/><circle cx="787.4" cy="569.2" r="3.6" fill="#bdbdbd" fill-opacity="0.85" stroke="#111" stroke-width="1.2"/><circle cx="793.9" cy="567.9" r="3.6" fill="#bdbdbd" fill-opacity="0.85" stroke="#111" stroke-width="1.2"/><circle cx="797" cy="567.4" r="3.6" fill="#bdbdbd" fill-opacity="0.85" stroke="#111" stroke-width="1.2"/><circle cx="790" cy="571.8" r="3.6" fill="#bdbdbd" fill-opacity="0.85" stroke="#111" stroke-width="1.2"/><circle cx="795.2" cy="570.5" r="3.6" fill="#bdbdbd" fill-opacity="0.85" stroke="#111" stroke-width="1.2"/>
<circle cx="823.4" cy="502.6" r="3.6" fill="#fcdcdc" fill-opacity="0.85" stroke="#f87e80" stroke-width="1.2"/><circle cx="823.4" cy="554.9" r="3.6" fill="#fcdcdc" fill-opacity="0.85" stroke="#f87e80" stroke-width="1.2"/><circle cx="823.4" cy="561.4" r="3.6" fill="#fcdcdc" fill-opacity="0.85" stroke="#f87e80" stroke-width="1.2"/><circle cx="816.9" cy="562.7" r="3.6" fill="#fcdcdc" fill-opacity="0.85" stroke="#f87e80" stroke-width="1.2"/><circle cx="829.2" cy="562.7" r="3.6" fill="#fcdcdc" fill-opacity="0.85" stroke="#f87e80" stroke-width="1.2"/><circle cx="814.8" cy="567.9" r="3.6" fill="#fcdcdc" fill-opacity="0.85" stroke="#f87e80" stroke-width="1.2"/><circle cx="822.6" cy="567.4" r="3.6" fill="#fcdcdc" fill-opacity="0.85" stroke="#f87e80" stroke-width="1.2"/><circle cx="831.8" cy="567.4" r="3.6" fill="#fcdcdc" fill-opacity="0.85" stroke="#f87e80" stroke-width="1.2"/><circle cx="819.5" cy="570.5" r="3.6" fill="#fcdcdc" fill-opacity="0.85" stroke="#f87e80" stroke-width="1.2"/><circle cx="826.6" cy="571.8" r="3.6" fill="#fcdcdc" fill-opacity="0.85" stroke="#f87e80" stroke-width="1.2"/>
<path d="M824 544 V576.4 M818.6 544 H829.4 M818.6 576.4 H829.4 M812.4 560.6 H835.6" fill="none" stroke="#f87e80" stroke-width="1.9"/>
<path d="M858 561.6 V568.8 M854 561.6 H862 M854 568.8 H862 M850 565.2 H866" fill="none" stroke="#4b9bf6" stroke-width="1.9"/>
<circle cx="850" cy="560" r="3.6" fill="#a4cbfa" fill-opacity="0.85" stroke="#4b9bf6" stroke-width="1.2"/><circle cx="855.3" cy="562.2" r="3.6" fill="#a4cbfa" fill-opacity="0.85" stroke="#4b9bf6" stroke-width="1.2"/><circle cx="860.5" cy="561.4" r="3.6" fill="#a4cbfa" fill-opacity="0.85" stroke="#4b9bf6" stroke-width="1.2"/><circle cx="865.7" cy="562.2" r="3.6" fill="#a4cbfa" fill-opacity="0.85" stroke="#4b9bf6" stroke-width="1.2"/><circle cx="851.4" cy="565.3" r="3.6" fill="#a4cbfa" fill-opacity="0.85" stroke="#4b9bf6" stroke-width="1.2"/><circle cx="857.9" cy="565.8" r="3.6" fill="#a4cbfa" fill-opacity="0.85" stroke="#4b9bf6" stroke-width="1.2"/><circle cx="863.1" cy="564.8" r="3.6" fill="#a4cbfa" fill-opacity="0.85" stroke="#4b9bf6" stroke-width="1.2"/><circle cx="854.5" cy="569.2" r="3.6" fill="#a4cbfa" fill-opacity="0.85" stroke="#4b9bf6" stroke-width="1.2"/><circle cx="860.5" cy="570" r="3.6" fill="#a4cbfa" fill-opacity="0.85" stroke="#4b9bf6" stroke-width="1.2"/><circle cx="861.8" cy="573.1" r="3.6" fill="#a4cbfa" fill-opacity="0.85" stroke="#4b9bf6" stroke-width="1.2"/>
<path d="M892.6 489.6 V557.6 M892.6 489.6 H892.6 M892.6 557.6 H892.6 M881.0 523.6 H904.2" fill="none" stroke="#a89c5a" stroke-width="1.9"/>
<circle cx="892.6" cy="460.4" r="3.6" fill="#e2ddc0" fill-opacity="0.85" stroke="#a89c5a" stroke-width="1.2"/><circle cx="892.6" cy="474.5" r="3.6" fill="#e2ddc0" fill-opacity="0.85" stroke="#a89c5a" stroke-width="1.2"/><circle cx="895.2" cy="483.9" r="3.6" fill="#e2ddc0" fill-opacity="0.85" stroke="#a89c5a" stroke-width="1.2"/><circle cx="889.2" cy="487.5" r="3.6" fill="#e2ddc0" fill-opacity="0.85" stroke="#a89c5a" stroke-width="1.2"/><circle cx="892.6" cy="500.6" r="3.6" fill="#e2ddc0" fill-opacity="0.85" stroke="#a89c5a" stroke-width="1.2"/><circle cx="892.6" cy="510.5" r="3.6" fill="#e2ddc0" fill-opacity="0.85" stroke="#a89c5a" stroke-width="1.2"/><circle cx="892.6" cy="534" r="3.6" fill="#e2ddc0" fill-opacity="0.85" stroke="#a89c5a" stroke-width="1.2"/><circle cx="892.6" cy="544.4" r="3.6" fill="#e2ddc0" fill-opacity="0.85" stroke="#a89c5a" stroke-width="1.2"/><circle cx="892.6" cy="552.8" r="3.6" fill="#e2ddc0" fill-opacity="0.85" stroke="#a89c5a" stroke-width="1.2"/><circle cx="890" cy="560.6" r="3.6" fill="#e2ddc0" fill-opacity="0.85" stroke="#a89c5a" stroke-width="1.2"/><circle cx="884.8" cy="567.9" r="3.6" fill="#e2ddc0" fill-opacity="0.85" stroke="#a89c5a" stroke-width="1.2"/><circle cx="894.4" cy="564.8" r="3.6" fill="#e2ddc0" fill-opacity="0.85" stroke="#a89c5a" stroke-width="1.2"/><circle cx="901" cy="564" r="3.6" fill="#e2ddc0" fill-opacity="0.85" stroke="#a89c5a" stroke-width="1.2"/>
<line x1="881" x2="904.2" y1="523.6" y2="523.6" stroke="#a89c5a" stroke-width="2"/>
</g>
</svg>
</body></html>
